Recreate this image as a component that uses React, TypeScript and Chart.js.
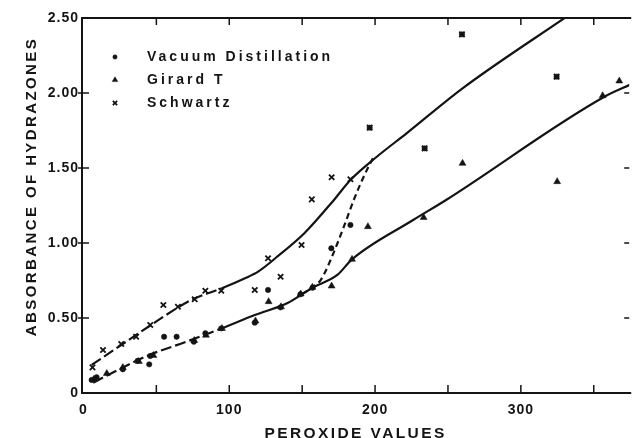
import React, { useEffect, useRef } from 'react';
import { Chart, registerables } from 'chart.js';
import { drawPoint } from 'chart.js/helpers';

Chart.register(...registerables);

// ---- Data ----
const xTickLabels = [0, 100, 200, 300];
const yTickLabels = ['0', '0.50', '1.00', '1.50', '2.00', '2.50'];

const vacuumX = [5.6, 9, 27, 37.2, 45.1, 45.8, 55.3, 63.9, 75.7, 83.6, 94.5, 117.5, 126.6, 135.2, 148.8, 157.1, 170, 183.1, 196.3, 234, 259.6, 324.5];
const vacuumY = [0.087, 0.105, 0.158, 0.215, 0.191, 0.247, 0.375, 0.375, 0.342, 0.398, 0.431, 0.469, 0.687, 0.571, 0.658, 0.702, 0.965, 1.12, 1.769, 1.631, 2.391, 2.109];

const girardX = [7, 16, 27, 38, 48, 76, 84, 95, 118, 127, 135.5, 149, 157, 170.2, 184.2, 195.1, 233.3, 260, 324.9, 356.1, 367.5];
const girardY = [0.09, 0.13, 0.17, 0.21, 0.25, 0.35, 0.385, 0.43, 0.48, 0.609, 0.575, 0.66, 0.705, 0.713, 0.891, 1.109, 1.17, 1.531, 1.409, 1.982, 2.08];

const schwartzX = [6.2, 13.4, 25.9, 36.1, 45.8, 54.8, 64.8, 76.3, 83.6, 94.5, 117.5, 126.6, 135.2, 149.6, 156.6, 170.2, 183.1, 196.3, 234, 259.6, 324.5];
const schwartzY = [0.171, 0.287, 0.327, 0.375, 0.453, 0.587, 0.575, 0.625, 0.682, 0.682, 0.687, 0.898, 0.775, 0.987, 1.291, 1.438, 1.425, 1.769, 1.631, 2.391, 2.109];

const upperCurveX = [5.6, 25.9, 45.8, 64.8, 76, 94.9, 110.8, 119.8, 133.3, 151.5, 171.8, 183.1, 201.2, 221.6, 260, 333];
const upperCurveY = [0.187, 0.32, 0.45, 0.57, 0.63, 0.698, 0.765, 0.809, 0.912, 1.065, 1.287, 1.42, 1.575, 1.731, 2.031, 2.52];

const lowerCurveX = [6.7, 25, 45.1, 70, 94.9, 117.5, 140, 157.1, 174.1, 184.2, 226.1, 248.7, 357.3, 376];
const lowerCurveY = [0.069, 0.16, 0.253, 0.34, 0.431, 0.52, 0.6, 0.702, 0.787, 0.891, 1.153, 1.287, 1.975, 2.06];

const dashedCurveX = [150, 157, 162.7, 169.5, 178.6, 185.4, 192.2, 199];
const dashedCurveY = [0.66, 0.705, 0.753, 0.887, 1.109, 1.287, 1.442, 1.575];

const DASHED_START_LIMIT = 95;

const pts = (xs: number[], ys: number[]) => xs.map((x, i) => ({ x, y: ys[i] }));

const INK = '#141414';
const FONT = "'Liberation Sans', Arial, sans-serif";
// axis titles are drawn in the first layer; shift that layer up a little
const TITLE_SHIFT = 19;

const framePlugin = {
  id: 'frameAndLegend',
  beforeDraw(chart: any) {
    chart.ctx.letterSpacing = '2.4px';
    chart.ctx.translate(0, -TITLE_SHIFT);
  },
  beforeDatasetsDraw(chart: any) {
    chart.ctx.translate(0, TITLE_SHIFT);
    chart.ctx.letterSpacing = '0px';
  },
  afterDatasetsDraw(chart: any) {
    chart.ctx.letterSpacing = '1px';
  },
  afterDraw(chart: any) {
    const ctx = chart.ctx as CanvasRenderingContext2D;
    const { left, right, top, bottom } = chart.chartArea;
    const xs = chart.scales.x;
    const ys = chart.scales.y;
    ctx.save();
    (ctx as any).letterSpacing = '0px';
    ctx.strokeStyle = INK;
    ctx.lineWidth = 2;
    // frame: left, top, bottom (the right edge lies just outside the picture)
    ctx.beginPath();
    ctx.moveTo(right + 2, top);
    ctx.lineTo(left, top);
    ctx.lineTo(left, bottom);
    ctx.lineTo(right + 2, bottom);
    ctx.stroke();

    ctx.lineWidth = 1.5;
    ctx.beginPath();
    xs.ticks.forEach((t: any) => {
      if (t.value <= 0) return;
      const px = xs.getPixelForValue(t.value);
      ctx.moveTo(px, bottom);
      ctx.lineTo(px, bottom - 8);
      ctx.moveTo(px, top);
      ctx.lineTo(px, top + 7);
    });
    ys.ticks.forEach((t: any) => {
      if (t.value <= 0 || t.value >= 2.5) return;
      const py = ys.getPixelForValue(t.value);
      ctx.moveTo(left - 4, py);
      ctx.lineTo(left + 7, py);
      ctx.moveTo(right, py);
      ctx.lineTo(right - 5, py);
    });
    ctx.stroke();

    // legend inside the plot area
    const markerX = left + 33;
    const textX = left + 65;
    const rowTop = top + 39;
    const rowGap = 23;
    ctx.font = `bold 14px ${FONT}`;
    (ctx as any).letterSpacing = '3px';
    ctx.textBaseline = 'middle';
    ctx.textAlign = 'left';
    [0, 1, 2].forEach((i) => {
      const ds = chart.data.datasets[i];
      const y = rowTop + i * rowGap;
      ctx.fillStyle = INK;
      ctx.strokeStyle = INK;
      ctx.lineWidth = ds.borderWidth;
      drawPoint(ctx, { pointStyle: ds.pointStyle, radius: ds.pointRadius * 0.8, borderWidth: ds.borderWidth, rotation: 0 } as any, markerX, y);
      ctx.fillText(ds.label, textX, y);
    });
    ctx.restore();
  },
};

export default function App() {
  const ref = useRef<HTMLCanvasElement>(null);

  useEffect(() => {
    if (!ref.current) return;
    const chart = new Chart(ref.current, {
      type: 'scatter',
      data: {
        datasets: [
          {
            label: 'Vacuum Distillation',
            data: pts(vacuumX, vacuumY),
            pointStyle: 'circle',
            pointRadius: 2.7,
            backgroundColor: INK,
            borderColor: INK,
            borderWidth: 0.5,
          },
          {
            label: 'Girard T',
            data: pts(girardX, girardY),
            pointStyle: 'triangle',
            pointRadius: 4,
            backgroundColor: INK,
            borderColor: INK,
            borderWidth: 0.5,
          },
          {
            label: 'Schwartz',
            data: pts(schwartzX, schwartzY),
            pointStyle: 'crossRot',
            pointRadius: 3.8,
            backgroundColor: INK,
            borderColor: INK,
            borderWidth: 1.8,
          },
          {
            label: 'Schwartz curve',
            data: pts(upperCurveX, upperCurveY),
            showLine: true,
            pointRadius: 0,
            borderColor: INK,
            borderWidth: 2.2,
            cubicInterpolationMode: 'monotone',
            segment: {
              borderDash: (c: any) => (c.p1.parsed.x <= DASHED_START_LIMIT ? [11, 4] : undefined),
            },
          },
          {
            label: 'Girard curve',
            data: pts(lowerCurveX, lowerCurveY),
            showLine: true,
            pointRadius: 0,
            borderColor: INK,
            borderWidth: 2.2,
            cubicInterpolationMode: 'monotone',
            segment: {
              borderDash: (c: any) => (c.p1.parsed.x <= DASHED_START_LIMIT ? [11, 4] : undefined),
            },
          },
          {
            label: 'Vacuum curve',
            data: pts(dashedCurveX, dashedCurveY),
            showLine: true,
            pointRadius: 0,
            borderColor: INK,
            borderWidth: 2.2,
            borderDash: [6, 4],
            cubicInterpolationMode: 'monotone',
          },
        ] as any,
      },
      options: {
        responsive: false,
        animation: false,
        events: [],
        layout: { padding: { top: 18, right: 0, left: 0, bottom: 0 } },
        plugins: {
          legend: { display: false },
          tooltip: { enabled: false },
        },
        scales: {
          x: {
            type: 'linear',
            min: -1,
            max: 374.3,
            afterFit: (s: any) => {
              s.height = 45;
            },
            grid: { display: false, drawTicks: false },
            border: { display: false },
            ticks: {
              stepSize: 50,
              includeBounds: false,
              autoSkip: false,
              maxRotation: 0,
              padding: 9,
              z: 1,
              color: INK,
              font: { family: FONT, size: 14, weight: 'bold' },
              callback: (v: any) => (xTickLabels.includes(Number(v)) ? String(v) : ''),
            },
            title: {
              display: true,
              text: 'PEROXIDE VALUES',
              color: INK,
              font: { family: FONT, size: 15.5, weight: 'bold', lineHeight: 1 },
              padding: { top: 0, bottom: -3 - TITLE_SHIFT },
            },
          },
          y: {
            type: 'linear',
            min: 0,
            max: 2.5,
            afterFit: (s: any) => {
              s.width = 82;
            },
            grid: { display: false, drawTicks: false },
            border: { display: false },
            ticks: {
              stepSize: 0.5,
              padding: 3,
              z: 1,
              color: INK,
              font: { family: FONT, size: 14, weight: 'bold' },
              callback: (_v: any, i: number) => yTickLabels[i],
            },
            title: {
              display: true,
              text: 'ABSORBANCE OF HYDRAZONES',
              color: INK,
              font: { family: FONT, size: 15, weight: 'bold', lineHeight: 1 },
              padding: { top: 24, bottom: 0 },
            },
          },
        },
      } as any,
      plugins: [framePlugin],
    });
    return () => chart.destroy();
  }, []);

  return (
    <div
      style={{
        position: 'absolute',
        left: 0,
        top: 0,
        width: 635,
        height: 438,
        overflow: 'hidden',
        background: '#fff',
      }}
    >
      <canvas ref={ref} width={635} height={438} style={{ display: 'block' }} />
    </div>
  );
}
